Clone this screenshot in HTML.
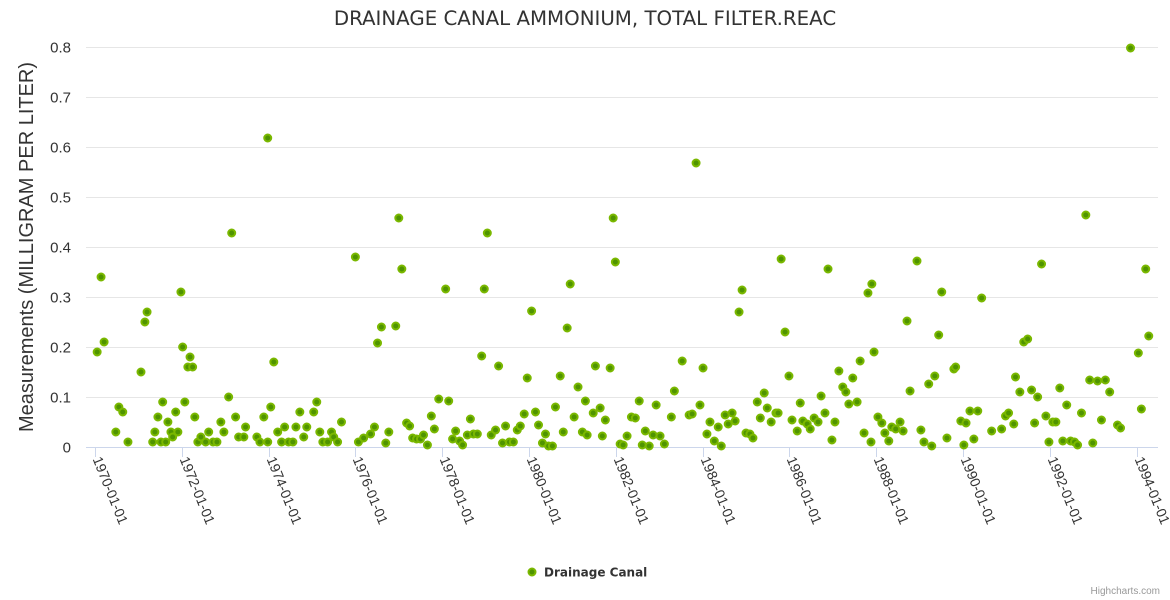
<!DOCTYPE html>
<html><head><meta charset="utf-8"><style>
html,body{margin:0;padding:0;background:#fff;}
svg{display:block;font-family:"Liberation Sans",sans-serif;}
</style></head><body>
<svg id="chart" width="1170" height="600" viewBox="0 0 1170 600">
<text x="585" y="25" text-anchor="middle" font-size="19.8" fill="#333" style="font-family:'DejaVu Sans',sans-serif">DRAINAGE CANAL AMMONIUM, TOTAL FILTER.REAC</text>
<text transform="translate(33,247) rotate(-90)" text-anchor="middle" font-size="20" fill="#333">Measurements (MILLIGRAM PER LITER)</text>
<g id="grid"></g><g id="yticks"></g><g id="xaxis"></g><g id="points"></g>
<g>
<circle cx="532" cy="572" r="3.5" fill="#4f9400" stroke="#7ab800" stroke-width="2"/>
<text x="544" y="576.5" font-size="12" font-weight="bold" fill="#333" style="font-family:'DejaVu Sans',sans-serif">Drainage Canal</text>
</g>
<text x="1160" y="594" text-anchor="end" font-size="10" fill="#999">Highcharts.com</text>
</svg>
<script>
const yTicks=[0,0.1,0.2,0.3,0.4,0.5,0.6,0.7,0.8];
const yTickLabels=["0","0.1","0.2","0.3","0.4","0.5","0.6","0.7","0.8"];
const xTickYears=[1970,1972,1974,1976,1978,1980,1982,1984,1986,1988,1990,1992,1994];
const xTickLabels=["1970-01-01","1972-01-01","1974-01-01","1976-01-01","1978-01-01","1980-01-01","1982-01-01","1984-01-01","1986-01-01","1988-01-01","1990-01-01","1992-01-01","1994-01-01"];
const dates=[1970.05,1970.14,1970.21,1970.48,1970.55,1970.64,1970.76,1971.06,1971.15,1971.20,1971.33,1971.38,1971.45,1971.52,1971.56,1971.63,1971.68,1971.75,1971.79,1971.86,1971.91,1971.98,1972.02,1972.07,1972.14,1972.19,1972.25,1972.30,1972.37,1972.44,1972.55,1972.62,1972.72,1972.81,1972.90,1972.97,1973.08,1973.15,1973.24,1973.31,1973.43,1973.47,1973.73,1973.80,1973.89,1973.98,1973.98,1974.05,1974.12,1974.21,1974.30,1974.37,1974.46,1974.56,1974.63,1974.72,1974.81,1974.88,1975.04,1975.11,1975.18,1975.25,1975.36,1975.45,1975.50,1975.59,1975.68,1976.00,1976.07,1976.19,1976.35,1976.44,1976.51,1976.60,1976.70,1976.77,1976.93,1977.00,1977.07,1977.18,1977.25,1977.32,1977.41,1977.50,1977.57,1977.66,1977.75,1977.82,1977.92,1978.08,1978.15,1978.24,1978.31,1978.40,1978.47,1978.58,1978.65,1978.72,1978.81,1978.91,1978.97,1979.04,1979.13,1979.23,1979.30,1979.39,1979.46,1979.55,1979.64,1979.73,1979.80,1979.89,1979.96,1980.06,1980.15,1980.22,1980.31,1980.38,1980.45,1980.54,1980.61,1980.72,1980.79,1980.88,1980.95,1981.04,1981.13,1981.23,1981.30,1981.34,1981.48,1981.53,1981.64,1981.69,1981.76,1981.87,1981.94,1981.99,1982.10,1982.17,1982.26,1982.36,1982.45,1982.54,1982.61,1982.68,1982.77,1982.86,1982.93,1983.02,1983.12,1983.28,1983.35,1983.53,1983.69,1983.76,1983.85,1983.94,1984.01,1984.10,1984.17,1984.27,1984.36,1984.43,1984.52,1984.59,1984.68,1984.75,1984.84,1984.91,1985.00,1985.09,1985.16,1985.26,1985.33,1985.42,1985.49,1985.58,1985.69,1985.74,1985.81,1985.90,1985.99,1986.06,1986.18,1986.25,1986.31,1986.41,1986.48,1986.57,1986.66,1986.73,1986.82,1986.89,1986.98,1987.05,1987.14,1987.23,1987.30,1987.37,1987.46,1987.56,1987.63,1987.72,1987.81,1987.88,1987.90,1987.95,1988.04,1988.13,1988.20,1988.29,1988.36,1988.45,1988.55,1988.62,1988.71,1988.78,1988.94,1989.03,1989.10,1989.21,1989.28,1989.35,1989.44,1989.51,1989.63,1989.79,1989.83,1989.95,1990.02,1990.07,1990.16,1990.25,1990.34,1990.43,1990.66,1990.89,1990.98,1991.05,1991.17,1991.21,1991.31,1991.40,1991.49,1991.58,1991.65,1991.72,1991.81,1991.91,1991.98,1992.07,1992.14,1992.23,1992.30,1992.39,1992.48,1992.57,1992.64,1992.73,1992.83,1992.92,1992.99,1993.10,1993.19,1993.28,1993.38,1993.56,1993.63,1993.86,1994.04,1994.11,1994.21,1994.28];
const values=[0.19,0.34,0.21,0.03,0.08,0.07,0.01,0.15,0.25,0.27,0.01,0.03,0.06,0.01,0.09,0.01,0.05,0.03,0.02,0.07,0.03,0.31,0.20,0.09,0.16,0.18,0.16,0.06,0.01,0.02,0.01,0.03,0.01,0.01,0.05,0.03,0.10,0.428,0.06,0.02,0.02,0.04,0.02,0.01,0.06,0.01,0.618,0.08,0.17,0.03,0.01,0.04,0.01,0.01,0.04,0.07,0.02,0.04,0.07,0.09,0.03,0.01,0.01,0.03,0.02,0.01,0.05,0.38,0.01,0.018,0.026,0.04,0.208,0.24,0.008,0.03,0.242,0.458,0.356,0.048,0.042,0.018,0.016,0.016,0.024,0.004,0.062,0.036,0.096,0.316,0.092,0.016,0.032,0.012,0.004,0.024,0.056,0.026,0.026,0.182,0.316,0.428,0.024,0.034,0.162,0.008,0.042,0.01,0.01,0.034,0.042,0.066,0.138,0.272,0.07,0.044,0.008,0.026,0.002,0.002,0.08,0.142,0.03,0.238,0.326,0.06,0.12,0.03,0.092,0.024,0.068,0.162,0.078,0.022,0.054,0.158,0.458,0.37,0.006,0.004,0.022,0.06,0.058,0.092,0.004,0.032,0.002,0.024,0.084,0.022,0.006,0.06,0.112,0.172,0.064,0.066,0.568,0.084,0.158,0.026,0.05,0.012,0.04,0.002,0.064,0.046,0.068,0.052,0.27,0.314,0.028,0.026,0.018,0.09,0.058,0.108,0.078,0.05,0.068,0.068,0.376,0.23,0.142,0.054,0.032,0.088,0.052,0.046,0.036,0.058,0.05,0.102,0.068,0.356,0.014,0.05,0.152,0.12,0.11,0.086,0.138,0.09,0.172,0.028,0.308,0.01,0.326,0.19,0.06,0.048,0.028,0.012,0.04,0.036,0.05,0.032,0.252,0.112,0.372,0.034,0.01,0.126,0.002,0.142,0.224,0.31,0.018,0.156,0.16,0.052,0.004,0.048,0.072,0.016,0.072,0.298,0.032,0.036,0.062,0.068,0.046,0.14,0.11,0.21,0.216,0.114,0.048,0.10,0.366,0.062,0.01,0.05,0.05,0.118,0.012,0.084,0.012,0.01,0.004,0.068,0.464,0.134,0.008,0.132,0.054,0.134,0.11,0.044,0.038,0.798,0.188,0.076,0.356,0.222];

const NS="http://www.w3.org/2000/svg";
const plotL=86,plotR=1158,plotT=47,plotB=447;
const xMin=1969.793,xMax=1994.493,yMin=0,yMax=0.8;
function xPos(v){return plotL+(v-xMin)/(xMax-xMin)*(plotR-plotL);}
function yPos(v){return plotB-(v-yMin)/(yMax-yMin)*(plotB-plotT);}
function mk(tag,attrs,parent){const e=document.createElementNS(NS,tag);for(const k in attrs)e.setAttribute(k,attrs[k]);parent.appendChild(e);return e;}
const grid=document.getElementById('grid'),yt=document.getElementById('yticks'),xa=document.getElementById('xaxis'),pts=document.getElementById('points');
yTicks.forEach((t,i)=>{
  const y=Math.round(yPos(t))+0.5;
  if(i>0){const g=mk('line',{x1:plotL,x2:plotR,y1:y,y2:y,stroke:'#e6e6e6','stroke-width':1},grid);
  
  }
  const tx=mk('text',{x:71,y:y+5,'text-anchor':'end','font-size':15,fill:'#333'},yt);
  tx.textContent=yTickLabels[i];
  
  
});
const ax=mk('line',{x1:plotL,x2:plotR,y1:plotB+0.5,y2:plotB+0.5,stroke:'#ccd6eb','stroke-width':1},xa);


xTickYears.forEach((yr,i)=>{
  const x=Math.round(xPos(yr))+0.5;
  const tk=mk('line',{x1:x,x2:x,y1:plotB,y2:plotB+10,stroke:'#ccd6eb','stroke-width':1},xa);
  
  
  const tx=mk('text',{transform:'translate('+(x-3)+','+(plotB+12)+') rotate(68)','font-size':14,fill:'#333'},xa);
  tx.textContent=xTickLabels[i];
  
  
});
dates.forEach((d,i)=>{
  const c=mk('circle',{cx:xPos(d),cy:yPos(values[i]),r:3.5,fill:'#4f9400',stroke:'#7ab800','stroke-width':2},pts);
  
  
});
</script>
</body></html>
